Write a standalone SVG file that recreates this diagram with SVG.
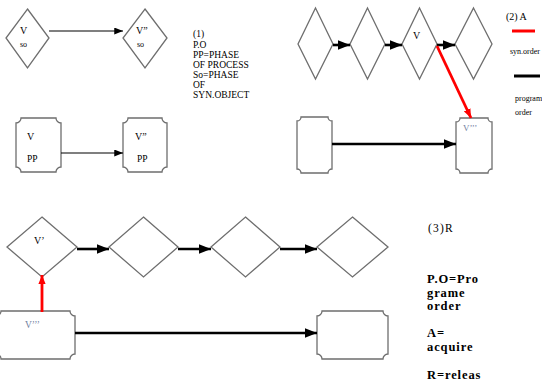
<svg xmlns="http://www.w3.org/2000/svg" width="542" height="385" viewBox="0 0 542 385">
<defs>
<style>
.sh{fill:#fff;stroke:#6e6e6e;stroke-width:1.3}
.thin{stroke:#000;stroke-width:1.2;fill:none}
.thick{stroke:#000;stroke-width:2.6;fill:none}
.red{stroke:#f00;stroke-width:2.8;fill:none}
</style>
<marker id="ah" viewBox="0 0 10 8" refX="10" refY="4" markerWidth="9" markerHeight="7" markerUnits="userSpaceOnUse" orient="auto"><path d="M0,0 L10,4 L0,8 Z" fill="#000"/></marker>
<marker id="ahb" viewBox="0 0 10 8" refX="10" refY="4" markerWidth="12" markerHeight="10" markerUnits="userSpaceOnUse" orient="auto"><path d="M0,0 L10,4 L0,8 Z" fill="#000"/></marker>
<marker id="ahr" viewBox="0 0 10 8" refX="10" refY="4" markerWidth="9" markerHeight="8" markerUnits="userSpaceOnUse" orient="auto"><path d="M0,0 L10,4 L0,8 Z" fill="#f00"/></marker>
</defs>
<rect width="542" height="385" fill="#fff"/>
<g font-family="'Liberation Serif', 'Times New Roman', serif" fill="#000">

<!-- Panel 1 -->
<g id="p1-d1"><path class="sh" d="M27.5,9 L49,38 L27.5,68 L6,38 Z"/><text x="20" y="34" font-size="10">V</text><text x="20" y="47" font-size="8">so</text></g>
<g id="p1-d2"><path class="sh" d="M145,9 L167,38 L145,68 L123,38 Z"/><text x="136" y="34" font-size="10">V”</text><text x="137" y="47" font-size="8">so</text></g>
<g id="p1-r1"><path class="sh" d="M21,118 H56 A5 5 0 0 0 61,123 V167 A5 5 0 0 0 56,172 H21 A5 5 0 0 0 16,167 V123 A5 5 0 0 0 21,118 Z"/><text x="27" y="140" font-size="10">V</text><text x="27" y="162" font-size="9.5">PP</text></g>
<g id="p1-r2"><path class="sh" d="M128,118 H162 A5 5 0 0 0 167,123 V167 A5 5 0 0 0 162,172 H128 A5 5 0 0 0 123,167 V123 A5 5 0 0 0 128,118 Z"/><text x="135" y="140" font-size="10">V”</text><text x="137" y="162" font-size="9.5">PP</text></g>
<g id="p1-legend" font-size="9.5">
<text x="193" y="37">(1)</text>
<text x="193" y="48">P.O</text>
<text x="193" y="58">PP=PHASE</text>
<text x="193" y="68">OF PROCESS</text>
<text x="193" y="78">So=PHASE</text>
<text x="193" y="88">OF</text>
<text x="193" y="98">SYN.OBJECT</text>
</g>

<!-- Panel 2 -->
<g id="p2-d1"><path class="sh" d="M315.5,8 L333,44 L315.5,79 L298,44 Z"/></g>
<g id="p2-d2"><path class="sh" d="M367.5,8 L385,44 L367.5,79 L350,44 Z"/></g>
<g id="p2-d3"><path class="sh" d="M419.5,8 L437,44 L419.5,79 L402,44 Z"/><text x="413" y="39" font-size="10">V</text></g>
<g id="p2-d4"><path class="sh" d="M473.5,8 L492,44 L473.5,79 L455,44 Z"/></g>
<g id="p2-r1"><path class="sh" d="M301,117 H328 A4 4 0 0 0 332,121 V169 A4 4 0 0 0 328,173 H301 A4 4 0 0 0 297,169 V121 A4 4 0 0 0 301,117 Z"/></g>
<g id="p2-r2"><path class="sh" d="M460,118 H488 A4 4 0 0 0 492,122 V169 A4 4 0 0 0 488,173 H460 A4 4 0 0 0 456,169 V122 A4 4 0 0 0 460,118 Z"/><text x="463" y="131" font-size="9" fill="#7080a0">V’’’</text></g>
<g id="p2-legend">
<text x="506" y="20" font-size="10">(2) A</text>
<line x1="512" y1="31" x2="535" y2="31" stroke="#f00" stroke-width="3"/>
<text x="510" y="54" font-size="8">syn.order</text>
<line x1="514" y1="76" x2="540" y2="76" stroke="#000" stroke-width="3"/>
<text x="515" y="101" font-size="8">program</text>
<text x="515" y="115" font-size="8">order</text>
</g>

<!-- Panel 3 -->
<g id="p3-d1"><path class="sh" d="M42,217 L77,247 L42,277 L7,247 Z"/><text x="34" y="244" font-size="10">V’</text></g>
<g id="p3-d2"><path class="sh" d="M143.5,217 L178,247 L143.5,277 L109,247 Z"/></g>
<g id="p3-d3"><path class="sh" d="M245.5,217 L280,247 L245.5,277 L211,247 Z"/></g>
<g id="p3-d4"><path class="sh" d="M352.5,217 L388,247 L352.5,277 L317,247 Z"/></g>
<g id="p3-r1"><path class="sh" d="M1,311 H70 A5 5 0 0 0 75,316 V354 A5 5 0 0 0 70,359 H1 A5 5 0 0 0 -4,354 V316 A5 5 0 0 0 1,311 Z"/><text x="25" y="328" font-size="9.5" fill="#7080a0">V’’’</text></g>
<g id="p3-r2"><path class="sh" d="M322,311 H383 A5 5 0 0 0 388,316 V354 A5 5 0 0 0 383,359 H322 A5 5 0 0 0 317,354 V316 A5 5 0 0 0 322,311 Z"/></g>
<g id="p3-legend">
<text x="428" y="232" font-size="11.5" letter-spacing="1.2">(3)R</text>
<g font-size="12.5" font-weight="bold" letter-spacing="0.9">
<text x="427" y="283">P.O=Pro</text>
<text x="427" y="296.5">grame</text>
<text x="427" y="310">order</text>
<text x="427" y="337">A=</text>
<text x="427" y="350.5">acquire</text>
<text x="427" y="379">R=releas</text>
</g>
</g>
</g>

<!-- Connectors -->
<g id="connectors">
<line class="thin" x1="49" y1="31" x2="123" y2="31" marker-end="url(#ah)"/>
<line class="thin" x1="61" y1="153" x2="123" y2="153" marker-end="url(#ah)"/>
<line class="thick" x1="333" y1="45" x2="350" y2="45" marker-end="url(#ahb)"/>
<line class="thick" x1="385" y1="45" x2="402" y2="45" marker-end="url(#ahb)"/>
<line class="thick" x1="437" y1="45" x2="455" y2="45" marker-end="url(#ahb)"/>
<line class="thick" x1="332" y1="144" x2="456" y2="144" marker-end="url(#ahb)"/>
<line class="red" x1="437" y1="46" x2="471" y2="118" marker-end="url(#ahr)"/>
<line class="thick" x1="77" y1="249" x2="109" y2="249" marker-end="url(#ahb)"/>
<line class="thick" x1="178" y1="249" x2="211" y2="249" marker-end="url(#ahb)"/>
<line class="thick" x1="280" y1="249" x2="317" y2="249" marker-end="url(#ahb)"/>
<line class="thick" x1="75" y1="333" x2="317" y2="333" marker-end="url(#ahb)"/>
<line class="red" x1="42" y1="312" x2="42" y2="275" marker-end="url(#ahr)"/>
</g>
</svg>
